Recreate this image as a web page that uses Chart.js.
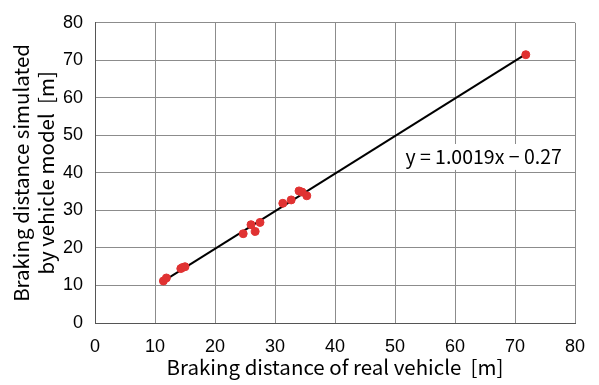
<!DOCTYPE html>
<html>
<head>
<meta charset="utf-8">
<script src="https://cdn.jsdelivr.net/npm/chart.js@4"></script>
<style>
html,body{margin:0;padding:0;background:#fff;}
#wrap{width:599px;height:385px;}
</style>
</head>
<body>
<div id="wrap"><canvas id="c" width="599" height="385"></canvas></div>
<script>
const realDistance = [11.4, 11.9, 14.3, 14.6, 15.0, 24.7, 26.0, 26.7, 27.5, 31.3, 32.7, 34.0, 34.5, 35.3, 71.8];
const simulatedDistance = [11.2, 12.0, 14.5, 14.8, 15.0, 23.8, 26.2, 24.4, 26.8, 31.9, 32.8, 35.2, 34.9, 33.9, 71.5];
const trendSlope = 1.0019;
const trendIntercept = -0.27;
const trendLabel = 'y = 1.0019x \u2212 0.27';
const xTitle = 'Braking distance of real vehicle  [m]';
const yTitle = ['Braking distance simulated', 'by vehicle model  [m]'];

const points = realDistance.map((x, i) => ({x: x, y: simulatedDistance[i]}));
const xMin = Math.min(...realDistance), xMax = Math.max(...realDistance);
const trend = [xMin, xMax].map(x => ({x: x, y: trendSlope * x + trendIntercept}));

const titleFont = {family: '"Noto Sans CJK JP", sans-serif', size: 20.5, lineHeight: 1.2};
const tickFont = {family: '"Liberation Sans", Arial, sans-serif', size: 18};

const labelBox = {
  id: 'labelBox',
  beforeDatasetsDraw(chart) {
    const {ctx, scales: {x, y}} = chart;
    const l = x.getPixelForValue(50.4), r = x.getPixelForValue(80);
    const t = y.getPixelForValue(47.7), b = y.getPixelForValue(40.8);
    ctx.save();
    ctx.fillStyle = '#fff';
    ctx.fillRect(l, t, r - l, b - t);
    ctx.fillStyle = '#000';
    ctx.font = '19.5px "Noto Sans CJK JP", sans-serif';
    ctx.textBaseline = 'middle';
    ctx.textAlign = 'left';
    ctx.fillText(trendLabel, l + 8, (t + b) / 2);
    ctx.restore();
  }
};

new Chart(document.getElementById('c'), {
  type: 'scatter',
  data: {
    datasets: [
      {
        type: 'line',
        data: trend,
        borderColor: '#000',
        borderWidth: 2,
        pointRadius: 0,
        fill: false,
        order: 2
      },
      {
        data: points,
        backgroundColor: '#e03232',
        borderColor: '#e03232',
        pointRadius: 4,
        pointHoverRadius: 4,
        order: 1
      }
    ]
  },
  options: {
    responsive: false,
    animation: false,
    devicePixelRatio: 1,
    layout: {padding: {top: 19, right: 24, left: 0, bottom: 0}},
    plugins: {legend: {display: false}, tooltip: {enabled: false}},
    scales: {
      x: {
        type: 'linear', min: 0, max: 80,
        ticks: {stepSize: 10, font: tickFont, color: '#000', padding: 13},
        grid: {color: '#8c8c8c', lineWidth: 1, drawTicks: false},
        border: {color: '#555', width: 1},
        title: {display: true, text: xTitle, font: titleFont, color: '#000', padding: {top: 0, bottom: 5}},
        afterFit(s) { s.height = 62; }
      },
      y: {
        type: 'linear', min: 0, max: 80,
        ticks: {stepSize: 10, font: tickFont, color: '#000', padding: 12},
        grid: {color: '#8c8c8c', lineWidth: 1, drawTicks: false},
        border: {color: '#555', width: 1},
        title: {display: true, text: yTitle, font: titleFont, color: '#000', padding: {top: 9, bottom: 2}},
        afterFit(s) { s.width = 95; }
      }
    }
  },
  plugins: [labelBox]
});
</script>
</body>
</html>
